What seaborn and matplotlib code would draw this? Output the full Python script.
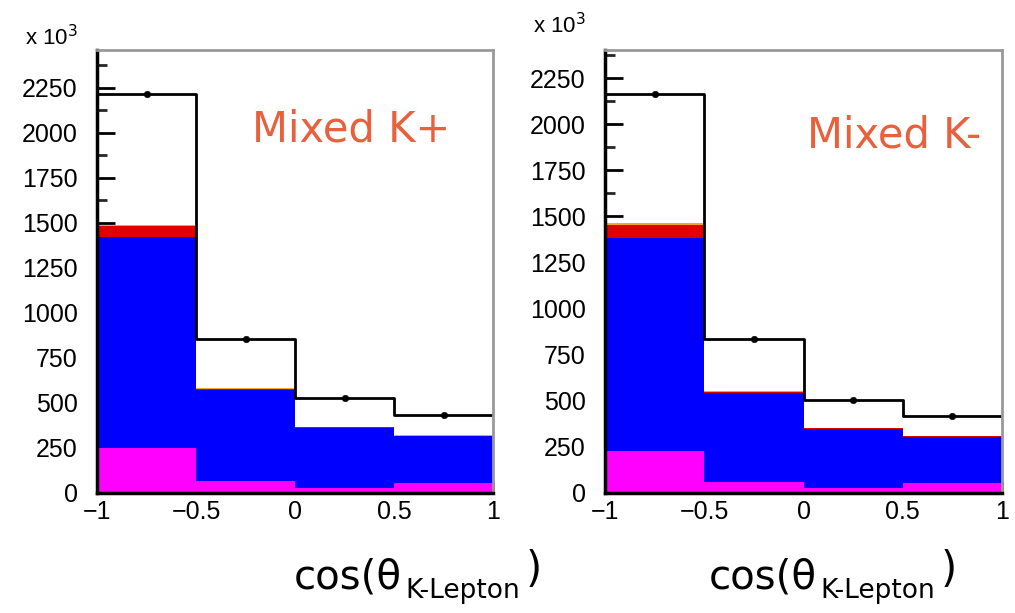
import numpy as np
import pandas as pd
import matplotlib
matplotlib.use("Agg")
import matplotlib.pyplot as plt
import seaborn as sns
from matplotlib.ticker import MultipleLocator

# ---- data (values in units of 10^3) ----
bin_edges = [-1.0, -0.5, 0.0, 0.5, 1.0]
bin_centers = [-0.75, -0.25, 0.25, 0.75]
components = ["orange", "red", "blue", "magenta"]  # top -> bottom in stack

kplus_magenta = [250, 67, 30, 56]
kplus_blue = [1172, 505, 331, 261]
kplus_red = [60, 6, 3, 2]
kplus_orange = [8, 3, 2, 2]
kplus_data = [2217, 856, 528, 433]

kminus_magenta = [228, 60, 27, 54]
kminus_blue = [1155, 482, 320, 250]
kminus_red = [68, 8, 3, 3]
kminus_orange = [14, 4, 2, 2]
kminus_data = [2164, 835, 504, 418]

panel_titles = ["Mixed K+", "Mixed K-"]
xtick_vals = [-1, -0.5, 0, 0.5, 1]
xtick_labels = ["\u22121", "\u22120.5", "0", "0.5", "1"]
ytick_vals = [0, 250, 500, 750, 1000, 1250, 1500, 1750, 2000, 2250]
ymax_vals = [2461, 2402]

palette = {"orange": "#F5A623", "red": "#E00000", "blue": "#0000FF", "magenta": "#FF00FF"}

sns.set_theme(style="ticks")
plt.rcParams["font.family"] = ["Liberation Sans", "DejaVu Sans"]
plt.rcParams["text.color"] = "black"
plt.rcParams["xtick.labelcolor"] = "black"
plt.rcParams["ytick.labelcolor"] = "black"

W, H = 1015, 613
fig = plt.figure(figsize=(W / 100, H / 100), dpi=100)

def fx(px):
    return px / W

def fy(py):
    return 1 - py / H

panels = [
    dict(comp={"orange": kplus_orange, "red": kplus_red, "blue": kplus_blue, "magenta": kplus_magenta},
         data=kplus_data, box=(97, 50, 493, 493), title=panel_titles[0], tpos=(252, 142),
         lab=(402, 588), ymax=ymax_vals[0], xexp=(25, 45)),
    dict(comp={"orange": kminus_orange, "red": kminus_red, "blue": kminus_blue, "magenta": kminus_magenta},
         data=kminus_data, box=(605, 50, 1002, 493), title=panel_titles[1], tpos=(807, 148),
         lab=(817, 588), ymax=ymax_vals[1], xexp=(533, 33)),
]

for p in panels:
    x0, y0, x1, y1 = p["box"]
    ax = fig.add_axes([fx(x0), fy(y1), fx(x1 - x0), (y1 - y0) / H])
    rows = []
    for c in components:
        for xc, w in zip(bin_centers, p["comp"][c]):
            rows.append({"x": xc, "w": w, "comp": c})
    df = pd.DataFrame(rows)
    sns.histplot(data=df, x="x", weights="w", hue="comp", hue_order=components,
                 multiple="stack", bins=bin_edges, element="step", fill=True,
                 palette=palette, alpha=1, linewidth=0, legend=False, ax=ax)
    dd = pd.DataFrame({"x": bin_centers, "w": p["data"]})
    sns.histplot(data=dd, x="x", weights="w", bins=bin_edges, element="step", fill=False,
                 color="black", linewidth=2, ax=ax)
    sns.scatterplot(data=dd, x="x", y="w", color="black", s=22, edgecolor="black", ax=ax, zorder=5)

    ax.set_xlim(-1, 1)
    ax.set_ylim(0, p["ymax"])
    ax.set_xlabel("")
    ax.set_ylabel("")
    ax.set_xticks(xtick_vals)
    ax.set_xticklabels(xtick_labels)
    ax.set_yticks(ytick_vals)
    ax.xaxis.set_minor_locator(MultipleLocator(0.1))
    ax.yaxis.set_minor_locator(MultipleLocator(125))
    ax.tick_params(axis="both", which="major", direction="in", labelsize=18, width=2, color="black")
    ax.tick_params(axis="y", which="major", length=13, pad=14)
    ax.tick_params(axis="y", which="minor", direction="in", length=7, width=2)
    ax.tick_params(axis="x", which="major", length=9, pad=5)
    ax.tick_params(axis="x", which="minor", direction="in", length=5, width=1.5)
    for s in ["left", "bottom"]:
        ax.spines[s].set_color("black")
        ax.spines[s].set_linewidth(2.5)
    for s in ["top", "right"]:
        ax.spines[s].set_visible(True)
        ax.spines[s].set_color("#999999")
        ax.spines[s].set_linewidth(2)

    fig.text(fx(p["tpos"][0]), fy(p["tpos"][1]), p["title"], color="#E8603C",
             fontsize=30, family=["DejaVu Sans"], ha="left", va="baseline")
    fig.text(fx(p["xexp"][0]), fy(p["xexp"][1]), r"x 10$^{3}$", fontsize=16, ha="left", va="baseline")

    lx, ly = p["lab"]
    fig.text(fx(lx), fy(ly), "cos(\u03b8", fontsize=29, family=["DejaVu Sans"], ha="right", va="baseline")
    fig.text(fx(lx + 3), fy(ly + 10), "K-Lepton", fontsize=19, family=["DejaVu Sans"], ha="left", va="baseline")
    fig.text(fx(lx + 124), fy(ly - 6), ")", fontsize=30, family=["DejaVu Sans"], ha="left", va="baseline")

fig.savefig("out.png", dpi=100)
